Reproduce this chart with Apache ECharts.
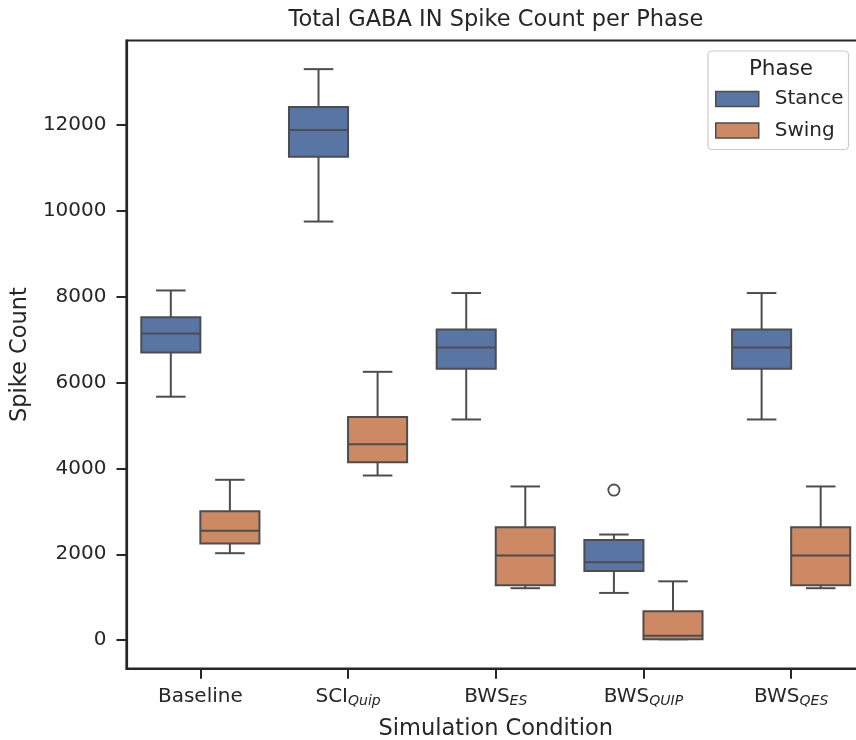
<!DOCTYPE html>
<html>
<head>
<meta charset="utf-8">
<title>Total GABA IN Spike Count per Phase</title>
<script src="https://cdn.jsdelivr.net/npm/echarts@6/dist/echarts.min.js"></script>
<style>
  html, body { margin: 0; padding: 0; background: #ffffff; }
  #chart { width: 856px; height: 740px; }
</style>
</head>
<body>
<div id="chart"></div>
<script>
// Simulation conditions; the part after "_" is drawn as an italic subscript
const conditions = ['Baseline', 'SCI_Quip', 'BWS_ES', 'BWS_QUIP', 'BWS_QES'];

// Box statistics per condition: [lower whisker, Q1, median, Q3, upper whisker]
const stanceStats = [
  [5670, 6700, 7140, 7520, 8145],
  [9750, 11260, 11880, 12420, 13300],
  [5140, 6320, 6815, 7235, 8085],
  [1100, 1610, 1815, 2335, 2460],
  [5140, 6320, 6815, 7235, 8085]
];
const swingStats = [
  [2025, 2250, 2550, 3000, 3735],
  [3835, 4145, 4565, 5200, 6250],
  [1210, 1280, 1970, 2630, 3580],
  [20, 20, 100, 675, 1370],
  [1210, 1280, 1970, 2630, 3580]
];
// Points beyond the whiskers: [condition index, value]
const stanceOutliers = [[3, 3495]];
const swingOutliers = [];

const yTicks = [0, 2000, 4000, 6000, 8000, 10000, 12000];
const yMin = -665;
const yMax = 13967;

const phases = ['Stance', 'Swing'];
const phaseColors = ['#5975a4', '#cc8963'];
const LINE = '#4d4d4d';
const INK = '#262626';
const FONT = 'DejaVu Sans';

// Draws one box-and-whisker glyph; side = -1 for left half of the band, +1 for right half
function boxRenderer(side, color) {
  return function (params, api) {
    const cat = api.value(0);
    const band = api.size([1, 0])[0];
    const w = band * 0.4;
    const cx = api.coord([cat, 0])[0] + side * band * 0.2;
    const y = (i) => api.coord([cat, api.value(i)])[1];
    const yLow = y(1), yQ1 = y(2), yMed = y(3), yQ3 = y(4), yHigh = y(5);
    const ls = { stroke: LINE, lineWidth: 2, fill: null };
    const cap = w / 4;
    return {
      type: 'group',
      children: [
        { type: 'line', shape: { x1: cx, y1: yQ3, x2: cx, y2: yHigh }, style: ls },
        { type: 'line', shape: { x1: cx, y1: yQ1, x2: cx, y2: yLow }, style: ls },
        { type: 'line', shape: { x1: cx - cap, y1: yHigh, x2: cx + cap, y2: yHigh }, style: ls },
        { type: 'line', shape: { x1: cx - cap, y1: yLow, x2: cx + cap, y2: yLow }, style: ls },
        { type: 'rect', shape: { x: cx - w / 2, y: yQ3, width: w, height: yQ1 - yQ3 },
          style: { fill: color, stroke: LINE, lineWidth: 2 } },
        { type: 'line', shape: { x1: cx - w / 2, y1: yMed, x2: cx + w / 2, y2: yMed }, style: ls }
      ]
    };
  };
}

function outlierRenderer(side) {
  return function (params, api) {
    const cat = api.value(0);
    const band = api.size([1, 0])[0];
    const p = api.coord([cat, api.value(1)]);
    return {
      type: 'circle',
      shape: { cx: p[0] + side * band * 0.2, cy: p[1], r: 5.6 },
      style: { fill: null, stroke: LINE, lineWidth: 1.8 }
    };
  };
}

const withIndex = (stats) => stats.map((s, i) => [i].concat(s));

const chart = echarts.init(document.getElementById('chart'), null, { renderer: 'canvas' });

chart.setOption({
  backgroundColor: '#ffffff',
  animation: false,
  textStyle: { fontFamily: FONT, color: INK },
  grid: {
    left: 126.5, top: 40.5, width: 738.5, height: 628.2,
    show: true, borderColor: INK, borderWidth: 2.2, backgroundColor: 'transparent',
    containLabel: false, outerBoundsMode: 'none'
  },
  graphic: [
    { type: 'text', x: 496, y: 20, z: 100,
      style: { text: 'Total GABA IN Spike Count per Phase', fill: INK,
               font: '22.5px "DejaVu Sans"', textAlign: 'center', textVerticalAlign: 'middle' } },
    { type: 'text', x: 781, y: 69, z: 100,
      style: { text: 'Phase', fill: INK,
               font: '21.5px "DejaVu Sans"', textAlign: 'center', textVerticalAlign: 'middle' } }
  ],
  legend: {
    data: phases,
    orient: 'vertical',
    left: 708, top: 51,
    icon: 'rect',
    itemWidth: 43, itemHeight: 15, itemGap: 11.5,
    padding: [38, 5, 9, 7],
    backgroundColor: '#ffffff',
    borderColor: '#cccccc', borderWidth: 1.2, borderRadius: 4,
    selectedMode: false,
    itemStyle: { borderColor: LINE, borderWidth: 1.5 },
    formatter: (n) => '{t|' + n + '}',
    textStyle: {
      fontSize: 20, color: INK, fontFamily: FONT,
      rich: { t: { fontSize: 20, color: INK, fontFamily: FONT, padding: [0, 0, 0, 11] } }
    }
  },
  xAxis: {
    type: 'category',
    data: conditions,
    name: 'Simulation Condition',
    nameLocation: 'middle',
    nameGap: 49,
    nameTextStyle: { fontSize: 22.5, color: INK, fontFamily: FONT },
    axisLine: { show: true, onZero: false, lineStyle: { color: INK, width: 2.2 } },
    axisTick: { show: true, alignWithLabel: true, length: 10, lineStyle: { color: INK, width: 2 } },
    splitLine: { show: false },
    axisLabel: {
      margin: 16,
      interval: 0,
      formatter: (v) => {
        const parts = v.split('_');
        return parts[1] ? '{m|' + parts[0] + '}{s|' + parts[1] + '}' : '{m|' + parts[0] + '}';
      },
      rich: {
        m: { fontSize: 20, lineHeight: 24, color: INK, fontFamily: FONT },
        s: { fontSize: 14, lineHeight: 14, fontStyle: 'italic', verticalAlign: 'bottom',
             color: INK, fontFamily: FONT }
      }
    }
  },
  yAxis: {
    type: 'value',
    min: yMin, max: yMax,
    name: 'Spike Count',
    nameLocation: 'middle',
    nameGap: 85,
    nameTextStyle: { fontSize: 22.5, color: INK, fontFamily: FONT },
    axisLine: { show: true, onZero: false, lineStyle: { color: INK, width: 2.2 } },
    axisTick: { show: true, length: 10, lineStyle: { color: INK, width: 2 }, customValues: yTicks },
    splitLine: { show: false },
    axisLabel: {
      fontSize: 20, color: INK, fontFamily: FONT, margin: 20, customValues: yTicks,
      formatter: (v) => String(v)
    }
  },
  series: [
    {
      name: phases[0], type: 'custom',
      itemStyle: { color: phaseColors[0] },
      renderItem: boxRenderer(-1, phaseColors[0]),
      encode: { x: 0, y: [1, 2, 3, 4, 5] },
      data: withIndex(stanceStats)
    },
    {
      name: phases[1], type: 'custom',
      itemStyle: { color: phaseColors[1] },
      renderItem: boxRenderer(1, phaseColors[1]),
      encode: { x: 0, y: [1, 2, 3, 4, 5] },
      data: withIndex(swingStats)
    },
    {
      name: 'Stance outliers', type: 'custom',
      renderItem: outlierRenderer(-1),
      encode: { x: 0, y: 1 },
      data: stanceOutliers
    },
    {
      name: 'Swing outliers', type: 'custom',
      renderItem: outlierRenderer(1),
      encode: { x: 0, y: 1 },
      data: swingOutliers
    }
  ]
});
</script>
</body>
</html>
